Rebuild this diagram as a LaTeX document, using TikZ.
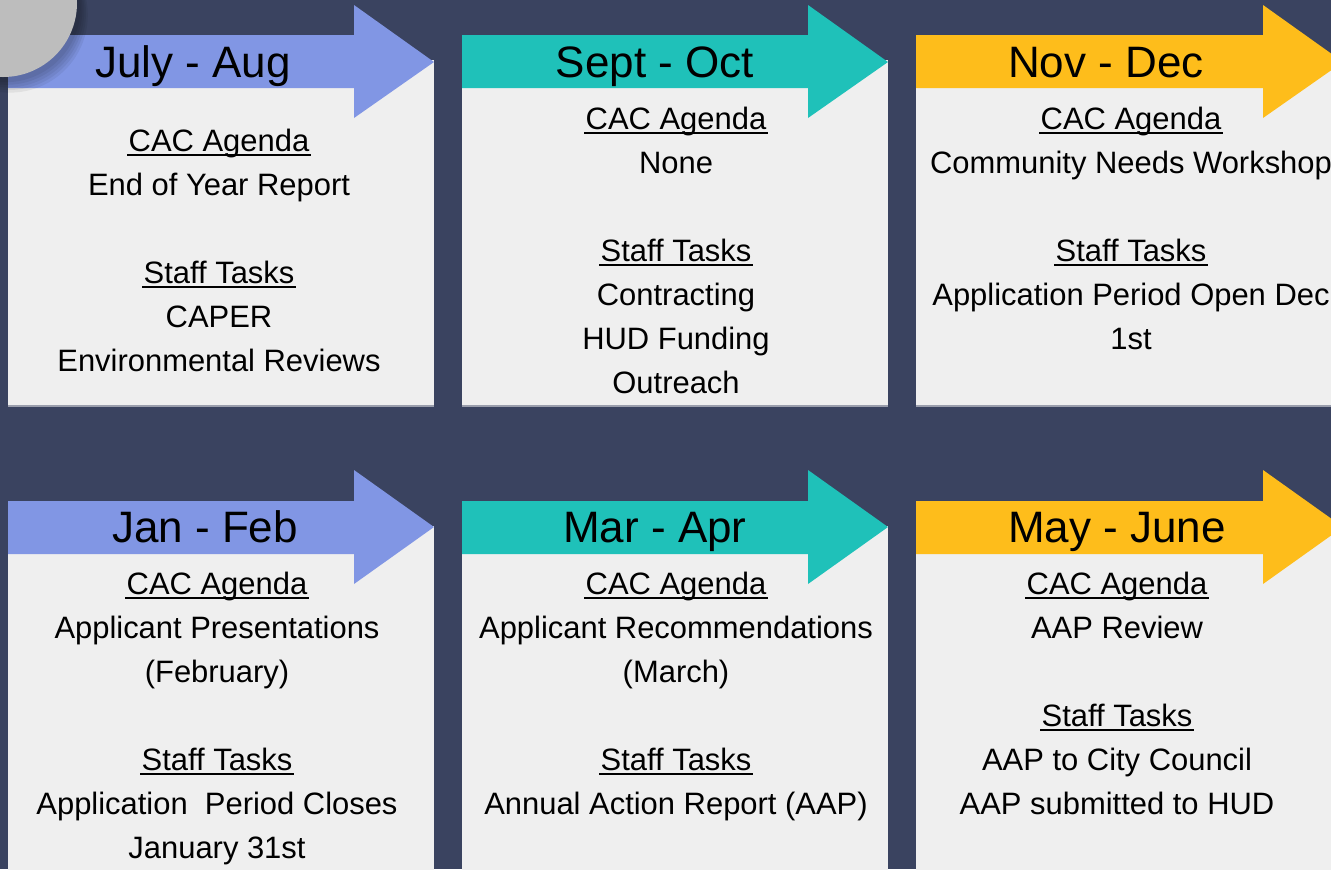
\documentclass[tikz,border=0pt]{standalone}
\usepackage{fontspec}
\setmainfont{Liberation Sans}
\usetikzlibrary{calc}
\definecolor{bgc}{HTML}{3A4360}
\definecolor{bluea}{HTML}{8196E4}
\definecolor{teala}{HTML}{1FC1B9}
\definecolor{yellowa}{HTML}{FEBD1B}
\definecolor{boxc}{HTML}{EFEFEF}
\definecolor{shadc}{HTML}{9A9EAC}
\definecolor{circc}{HTML}{BDBDBD}
\newcommand\ulline[1]{\draw[ulstyle] ($(#1.base west)+(-1,4)$) -- ($(#1.base east)+(1,4)$);}
\begin{document}
\begin{tikzpicture}[x=0.75pt,y=-0.75pt,
  body/.style={anchor=base,inner sep=0pt,font=\fontsize{23.2pt}{28pt}\selectfont,text=black},
  ttl/.style={anchor=base,inner sep=0pt,font=\fontsize{33pt}{38pt}\selectfont,text=black},
  ulstyle/.style={line width=1.3pt,black},
  panelbox/.style={fill=boxc},
  boxshadow/.style={fill=shadc},
  softshadow/.style={fill=black,opacity=0.06}]
\useasboundingbox (0,0) rectangle (1331,869);
\fill[bgc] (0,0) rectangle (1331,869);
% boxes top row
\fill[boxshadow] (8,60) rectangle (434,407);
\fill[panelbox] (8,60) rectangle (434,405);
\fill[boxshadow] (462,60) rectangle (888,407);
\fill[panelbox] (462,60) rectangle (888,405);
\fill[boxshadow] (916,60) rectangle (1342,407);
\fill[panelbox] (916,60) rectangle (1342,405);
% boxes bottom row
\fill[panelbox] (8,526) rectangle (434,880);
\fill[panelbox] (462,526) rectangle (888,880);
\fill[panelbox] (916,526) rectangle (1342,880);
% arrows top row
\fill[bluea] (8,35) -- (354,35) -- (354,5) -- (434,62) -- (354,118) -- (354,88) -- (8,88) -- cycle;
\fill[teala] (462,35) -- (808,35) -- (808,5) -- (888,62) -- (808,118) -- (808,88) -- (462,88) -- cycle;
\fill[yellowa] (916,35) -- (1263,35) -- (1263,5) -- (1343,62) -- (1263,118) -- (1263,88) -- (916,88) -- cycle;
% arrows bottom row
\fill[bluea] (8,501) -- (354,501) -- (354,470) -- (434,527) -- (354,584) -- (354,554) -- (8,554) -- cycle;
\fill[teala] (462,501) -- (808,501) -- (808,470) -- (888,527) -- (808,584) -- (808,554) -- (462,554) -- cycle;
\fill[yellowa] (916,501) -- (1263,501) -- (1263,470) -- (1343,527) -- (1263,584) -- (1263,554) -- (916,554) -- cycle;
% corner circle with soft shadow
\foreach \s in {12,10,8,6,4}{\fill[softshadow] (3+\s*0.6,3+\s) circle (74+\s*0.3);}
\fill[circc] (3,3) circle (74);
% titles
\node[ttl] (t1) at (193,77) {July - Aug};
\node[ttl] (t2) at (655,77) {Sept - Oct};
\node[ttl] (t3) at (1106,77) {Nov - Dec};
\node[ttl] (t4) at (205,542) {Jan - Feb};
\node[ttl] (t5) at (655,542) {Mar - Apr};
\node[ttl] (t6) at (1117,542) {May - June};
% panel 1
\node[body] (p1a) at (219,151) {CAC Agenda}; \ulline{p1a}
\node[body] (p1b) at (219,195) {End of Year Report};
\node[body] (p1c) at (219,283) {Staff Tasks}; \ulline{p1c}
\node[body] (p1d) at (219,327) {CAPER};
\node[body] (p1e) at (219,371) {Environmental Reviews};
% panel 2
\node[body] (p2a) at (676,129) {CAC Agenda}; \ulline{p2a}
\node[body] (p2b) at (676,173) {None};
\node[body] (p2c) at (676,261) {Staff Tasks}; \ulline{p2c}
\node[body] (p2d) at (676,305) {Contracting};
\node[body] (p2e) at (676,349) {HUD Funding};
\node[body] (p2f) at (676,393) {Outreach};
% panel 3
\node[body] (p3a) at (1131,129) {CAC Agenda}; \ulline{p3a}
\node[body] (p3b) at (1131,173) {Community Needs Workshop};
\node[body] (p3c) at (1131,261) {Staff Tasks}; \ulline{p3c}
\node[body] (p3d) at (1131,305) {Application Period Open Dec};
\node[body] (p3e) at (1131,349) {1st};
% panel 4
\node[body] (p4a) at (217,594) {CAC Agenda}; \ulline{p4a}
\node[body] (p4b) at (217,638) {Applicant Presentations};
\node[body] (p4c) at (217,682) {(February)};
\node[body] (p4d) at (217,770) {Staff Tasks}; \ulline{p4d}
\node[body] (p4e) at (217,814) {Application\ \ Period Closes};
\node[body] (p4f) at (217,858) {January 31st};
% panel 5
\node[body] (p5a) at (676,594) {CAC Agenda}; \ulline{p5a}
\node[body] (p5b) at (676,638) {Applicant Recommendations};
\node[body] (p5c) at (676,682) {(March)};
\node[body] (p5d) at (676,770) {Staff Tasks}; \ulline{p5d}
\node[body] (p5e) at (676,814) {Annual Action Report (AAP)};
% panel 6
\node[body] (p6a) at (1117,594) {CAC Agenda}; \ulline{p6a}
\node[body] (p6b) at (1117,638) {AAP Review};
\node[body] (p6c) at (1117,726) {Staff Tasks}; \ulline{p6c}
\node[body] (p6d) at (1117,770) {AAP to City Council};
\node[body] (p6e) at (1117,814) {AAP submitted to HUD};
\end{tikzpicture}
\end{document}
